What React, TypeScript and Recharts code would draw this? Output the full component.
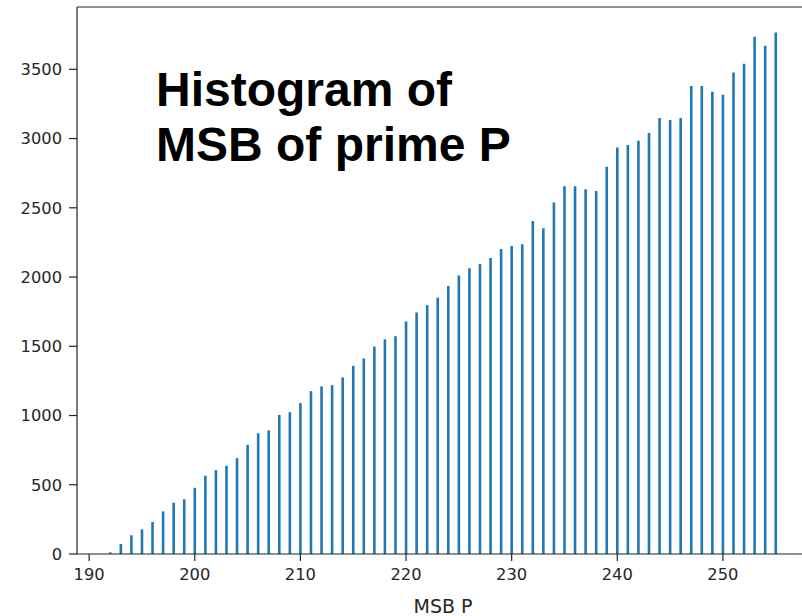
import { BarChart, Bar, XAxis, YAxis, ReferenceLine } from 'recharts';

// MSB value of each histogram bin
const MSB_VALUES = [
  192, 193, 194, 195, 196, 197, 198, 199, 200, 201, 202, 203, 204, 205, 206, 207,
  208, 209, 210, 211, 212, 213, 214, 215, 216, 217, 218, 219, 220, 221, 222, 223,
  224, 225, 226, 227, 228, 229, 230, 231, 232, 233, 234, 235, 236, 237, 238, 239,
  240, 241, 242, 243, 244, 245, 246, 247, 248, 249, 250, 251, 252, 253, 254, 255,
];

// counts
const COUNTS = [
  12, 72, 135, 178, 231, 308, 370, 395, 478, 565, 606, 637, 692, 788, 872, 893,
  1004, 1024, 1090, 1176, 1210, 1219, 1275, 1359, 1412, 1498, 1551, 1573, 1679, 1744, 1797, 1850,
  1936, 2011, 2064, 2095, 2138, 2203, 2225, 2236, 2405, 2352, 2539, 2655, 2655, 2634, 2621, 2796,
  2936, 2954, 2985, 3041, 3149, 3134, 3149, 3379, 3379, 3338, 3317, 3477, 3541, 3735, 3670, 3765,
];

const X_TICKS = [190, 200, 210, 220, 230, 240, 250];
const Y_TICKS = [0, 500, 1000, 1500, 2000, 2500, 3000, 3500];
const X_MIN = 188.85;
const X_MAX = 258.15;
const Y_MAX = 3950;

const data = MSB_VALUES.map((msb, i) => ({ msb, count: COUNTS[i] }));

const tickStyle = { fontFamily: '"DejaVu Sans", sans-serif', fontSize: 16.3, fill: '#262626' };
const spine = '#222';

export default function App() {
  return (
    <div style={{ position: 'absolute', left: 0, top: 0, width: 802, height: 616, overflow: 'hidden', background: '#fff' }}>
      <BarChart
        width={830}
        height={616}
        data={data}
        margin={{ top: 7, right: 21, left: 0, bottom: 0 }}
      >
        <XAxis
          dataKey="msb"
          type="number"
          domain={[X_MIN, X_MAX]}
          ticks={X_TICKS}
          allowDataOverflow
          height={62}
          tickSize={7}
          tickMargin={7}
          tick={tickStyle}
          stroke={spine}
          strokeWidth={1.2}
          tickLine={{ stroke: spine, strokeWidth: 1.2 }}
          label={{ value: 'MSB P', position: 'insideBottom', offset: 3, style: { ...tickStyle, fontSize: 19 } }}
        />
        <YAxis
          type="number"
          domain={[0, Y_MAX]}
          ticks={Y_TICKS}
          allowDataOverflow
          width={77}
          tickSize={8}
          tickMargin={7}
          tick={tickStyle}
          stroke={spine}
          strokeWidth={1.2}
          tickLine={{ stroke: spine, strokeWidth: 1.2 }}
        />
        <ReferenceLine y={Y_MAX} stroke={spine} strokeWidth={1.2} />
        <ReferenceLine x={X_MAX} stroke={spine} strokeWidth={1.2} />
        <Bar dataKey="count" fill="#1f77b4" barSize={2.6} isAnimationActive={false} />
      </BarChart>
      <div
        style={{
          position: 'absolute',
          left: 156,
          top: 62,
          fontFamily: '"Liberation Sans", Arial, sans-serif',
          fontWeight: 'bold',
          fontSize: 48,
          lineHeight: '55px',
          color: '#000',
        }}
      >
        Histogram of
        <br />
        MSB of prime P
      </div>
    </div>
  );
}
